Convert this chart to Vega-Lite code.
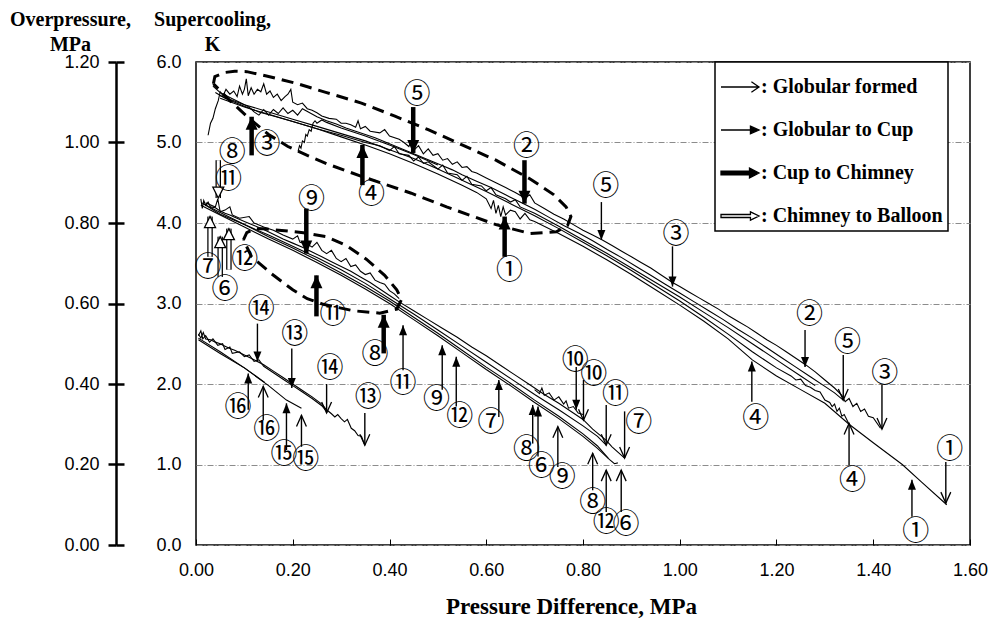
{
"$schema":"https://vega.github.io/schema/vega-lite/v6.json",
"width":774,"height":483,
"autosize":{"type":"none"},
"padding":{"left":196,"top":62,"right":23,"bottom":75},
"config":{
 "view":{"stroke":"black","strokeWidth":1.5},
 "axis":{"labelFont":"Liberation Sans Narrow, Liberation Sans","labelFontSize":18,"labelColor":"black","titleFont":"Liberation Serif","titleFontWeight":"bold","titleColor":"black","labelFlush":false,"labelOverlap":false},
 "legend":{"strokeWidth":1.5}
},
"datasets":{
 "leg":[{"type":"Globular formed","x":-1,"y":-1},{"type":"Globular to Cup","x":-1,"y":-1},{"type":"Cup to Chimney","x":-1,"y":-1},{"type":"Chimney to Balloon","x":-1,"y":-1}],
 "ell":[
  {"e":"A","i":1,"x":0.036,"y":5.73},{"e":"A","i":2,"x":0.039,"y":5.82},{"e":"A","i":3,"x":0.06,"y":5.87},{"e":"A","i":4,"x":0.08,"y":5.885},{"e":"A","i":5,"x":0.105,"y":5.88},{"e":"A","i":6,"x":0.15,"y":5.82},{"e":"A","i":7,"x":0.204,"y":5.74},{"e":"A","i":8,"x":0.27,"y":5.62},{"e":"A","i":9,"x":0.342,"y":5.49},{"e":"A","i":10,"x":0.41,"y":5.33},{"e":"A","i":11,"x":0.48,"y":5.16},{"e":"A","i":12,"x":0.55,"y":4.97},{"e":"A","i":13,"x":0.62,"y":4.78},{"e":"A","i":14,"x":0.69,"y":4.55},{"e":"A","i":15,"x":0.74,"y":4.35},{"e":"A","i":16,"x":0.765,"y":4.2},{"e":"A","i":17,"x":0.775,"y":4.08},{"e":"A","i":18,"x":0.768,"y":3.97},{"e":"A","i":19,"x":0.745,"y":3.89},{"e":"A","i":20,"x":0.69,"y":3.87},{"e":"A","i":21,"x":0.62,"y":3.98},{"e":"A","i":22,"x":0.518,"y":4.2},{"e":"A","i":23,"x":0.445,"y":4.37},{"e":"A","i":24,"x":0.342,"y":4.58},{"e":"A","i":25,"x":0.273,"y":4.73},{"e":"A","i":26,"x":0.23,"y":4.84},{"e":"A","i":27,"x":0.19,"y":4.95},{"e":"A","i":28,"x":0.15,"y":5.1},{"e":"A","i":29,"x":0.11,"y":5.3},{"e":"A","i":30,"x":0.07,"y":5.52},{"e":"A","i":31,"x":0.036,"y":5.73},
  {"e":"B","i":1,"x":0.098,"y":3.79},{"e":"B","i":2,"x":0.105,"y":3.88},{"e":"B","i":3,"x":0.122,"y":3.93},{"e":"B","i":4,"x":0.139,"y":3.93},{"e":"B","i":5,"x":0.222,"y":3.88},{"e":"B","i":6,"x":0.27,"y":3.83},{"e":"B","i":7,"x":0.311,"y":3.72},{"e":"B","i":8,"x":0.352,"y":3.55},{"e":"B","i":9,"x":0.39,"y":3.35},{"e":"B","i":10,"x":0.415,"y":3.17},{"e":"B","i":11,"x":0.425,"y":3.05},{"e":"B","i":12,"x":0.415,"y":2.93},{"e":"B","i":13,"x":0.38,"y":2.88},{"e":"B","i":14,"x":0.325,"y":2.91},{"e":"B","i":15,"x":0.263,"y":2.99},{"e":"B","i":16,"x":0.23,"y":3.06},{"e":"B","i":17,"x":0.2,"y":3.17},{"e":"B","i":18,"x":0.156,"y":3.37},{"e":"B","i":19,"x":0.115,"y":3.58},{"e":"B","i":20,"x":0.098,"y":3.79}
 ],
 "curves":[
  {"s":"T1","x":0.025,"y":5.09},{"s":"T1","x":0.03,"y":5.24},{"s":"T1","x":0.035,"y":5.3},{"s":"T1","x":0.04,"y":5.42},{"s":"T1","x":0.046,"y":5.52},{"s":"T1","x":0.05,"y":5.63},{"s":"T1","x":0.056,"y":5.58},{"s":"T1","x":0.062,"y":5.66},{"s":"T1","x":0.07,"y":5.6},{"s":"T1","x":0.078,"y":5.64},{"s":"T1","x":0.085,"y":5.57},{"s":"T1","x":0.09,"y":5.7},{"s":"T1","x":0.096,"y":5.6},{"s":"T1","x":0.1,"y":5.66},{"s":"T1","x":0.104,"y":5.79},{"s":"T1","x":0.108,"y":5.58},{"s":"T1","x":0.114,"y":5.68},{"s":"T1","x":0.12,"y":5.6},{"s":"T1","x":0.127,"y":5.66},{"s":"T1","x":0.134,"y":5.63},{"s":"T1","x":0.14,"y":5.73},{"s":"T1","x":0.146,"y":5.6},{"s":"T1","x":0.153,"y":5.64},{"s":"T1","x":0.16,"y":5.56},{"s":"T1","x":0.168,"y":5.6},{"s":"T1","x":0.176,"y":5.52},{"s":"T1","x":0.184,"y":5.57},{"s":"T1","x":0.19,"y":5.6},{"s":"T1","x":0.196,"y":5.66},{"s":"T1","x":0.2,"y":5.5},{"s":"T1","x":0.21,"y":5.47},{"s":"T1","x":0.22,"y":5.49},{"s":"T1","x":0.23,"y":5.42},{"s":"T1","x":0.24,"y":5.4},{"s":"T1","x":0.25,"y":5.37},{"s":"T1","x":0.26,"y":5.33},{"s":"T1","x":0.275,"y":5.3},{"s":"T1","x":0.29,"y":5.29},{"s":"T1","x":0.3,"y":5.24},{"s":"T1","x":0.31,"y":5.24},{"s":"T1","x":0.32,"y":5.22},{"s":"T1","x":0.33,"y":5.19},{"s":"T1","x":0.335,"y":5.27},{"s":"T1","x":0.34,"y":5.17},{"s":"T1","x":0.35,"y":5.2},{"s":"T1","x":0.36,"y":5.14},{"s":"T1","x":0.38,"y":5.12},{"s":"T1","x":0.39,"y":5.16},{"s":"T1","x":0.4,"y":5.08},{"s":"T1","x":0.42,"y":5.04},{"s":"T1","x":0.43,"y":5.0},{"s":"T1","x":0.44,"y":4.95},{"s":"T1","x":0.445,"y":5.02},{"s":"T1","x":0.45,"y":4.9},{"s":"T1","x":0.46,"y":4.96},{"s":"T1","x":0.47,"y":4.86},{"s":"T1","x":0.48,"y":4.92},{"s":"T1","x":0.49,"y":4.84},{"s":"T1","x":0.5,"y":4.86},{"s":"T1","x":0.51,"y":4.78},{"s":"T1","x":0.52,"y":4.8},{"s":"T1","x":0.53,"y":4.73},{"s":"T1","x":0.54,"y":4.76},{"s":"T1","x":0.55,"y":4.69},{"s":"T1","x":0.56,"y":4.7},{"s":"T1","x":0.57,"y":4.64},{"s":"T1","x":0.58,"y":4.62},{"s":"T1","x":0.6,"y":4.56},{"s":"T1","x":0.62,"y":4.5},{"s":"T1","x":0.64,"y":4.44},{"s":"T1","x":0.66,"y":4.38},{"s":"T1","x":0.68,"y":4.31},{"s":"T1","x":0.69,"y":4.35},{"s":"T1","x":0.7,"y":4.25},{"s":"T1","x":0.72,"y":4.18},{"s":"T1","x":0.74,"y":4.11},{"s":"T1","x":0.76,"y":4.05},{"s":"T1","x":0.78,"y":3.98},{"s":"T1","x":0.8,"y":3.91},{"s":"T1","x":0.82,"y":3.85},{"s":"T1","x":0.84,"y":3.79},{"s":"T1","x":0.86,"y":3.72},{"s":"T1","x":0.88,"y":3.65},{"s":"T1","x":0.9,"y":3.58},{"s":"T1","x":0.92,"y":3.51},{"s":"T1","x":0.94,"y":3.44},{"s":"T1","x":0.96,"y":3.36},{"s":"T1","x":0.985,"y":3.26},{"s":"T1","x":1.0,"y":3.21},{"s":"T1","x":1.02,"y":3.14},{"s":"T1","x":1.04,"y":3.07},{"s":"T1","x":1.06,"y":3.0},{"s":"T1","x":1.08,"y":2.93},{"s":"T1","x":1.1,"y":2.85},{"s":"T1","x":1.12,"y":2.78},{"s":"T1","x":1.14,"y":2.71},{"s":"T1","x":1.16,"y":2.63},{"s":"T1","x":1.18,"y":2.55},{"s":"T1","x":1.2,"y":2.48},{"s":"T1","x":1.22,"y":2.4},{"s":"T1","x":1.24,"y":2.32},{"s":"T1","x":1.26,"y":2.24},{"s":"T1","x":1.28,"y":2.15},{"s":"T1","x":1.3,"y":2.05},{"s":"T1","x":1.32,"y":1.95},{"s":"T1","x":1.335,"y":1.86},{"s":"T1","x":1.342,"y":1.78},{"s":"T1","x":1.35,"y":1.82},{"s":"T1","x":1.358,"y":1.72},{"s":"T1","x":1.366,"y":1.76},{"s":"T1","x":1.374,"y":1.66},{"s":"T1","x":1.382,"y":1.69},{"s":"T1","x":1.39,"y":1.6},{"s":"T1","x":1.4,"y":1.58},{"s":"T1","x":1.415,"y":1.45},
  {"s":"T2","x":0.035,"y":5.7},{"s":"T2","x":0.05,"y":5.62},{"s":"T2","x":0.07,"y":5.56},{"s":"T2","x":0.09,"y":5.5},{"s":"T2","x":0.11,"y":5.44},{"s":"T2","x":0.12,"y":5.38},{"s":"T2","x":0.13,"y":5.34},{"s":"T2","x":0.14,"y":5.41},{"s":"T2","x":0.15,"y":5.34},{"s":"T2","x":0.16,"y":5.41},{"s":"T2","x":0.17,"y":5.36},{"s":"T2","x":0.18,"y":5.43},{"s":"T2","x":0.19,"y":5.36},{"s":"T2","x":0.2,"y":5.4},{"s":"T2","x":0.21,"y":5.34},{"s":"T2","x":0.22,"y":5.42},{"s":"T2","x":0.235,"y":5.37},{"s":"T2","x":0.25,"y":5.32},{"s":"T2","x":0.27,"y":5.27},{"s":"T2","x":0.29,"y":5.23},{"s":"T2","x":0.31,"y":5.18},{"s":"T2","x":0.33,"y":5.14},{"s":"T2","x":0.35,"y":5.1},{"s":"T2","x":0.37,"y":5.06},{"s":"T2","x":0.39,"y":5.01},{"s":"T2","x":0.41,"y":4.96},{"s":"T2","x":0.43,"y":4.91},{"s":"T2","x":0.45,"y":4.86},{"s":"T2","x":0.47,"y":4.81},{"s":"T2","x":0.49,"y":4.76},{"s":"T2","x":0.51,"y":4.71},{"s":"T2","x":0.53,"y":4.66},{"s":"T2","x":0.55,"y":4.6},{"s":"T2","x":0.58,"y":4.52},{"s":"T2","x":0.61,"y":4.44},{"s":"T2","x":0.64,"y":4.35},{"s":"T2","x":0.67,"y":4.26},{"s":"T2","x":0.7,"y":4.17},{"s":"T2","x":0.73,"y":4.07},{"s":"T2","x":0.76,"y":3.97},{"s":"T2","x":0.79,"y":3.88},{"s":"T2","x":0.82,"y":3.78},{"s":"T2","x":0.85,"y":3.67},{"s":"T2","x":0.88,"y":3.57},{"s":"T2","x":0.91,"y":3.46},{"s":"T2","x":0.94,"y":3.35},{"s":"T2","x":0.97,"y":3.24},{"s":"T2","x":1.0,"y":3.13},{"s":"T2","x":1.03,"y":3.02},{"s":"T2","x":1.06,"y":2.91},{"s":"T2","x":1.09,"y":2.8},{"s":"T2","x":1.12,"y":2.68},{"s":"T2","x":1.15,"y":2.57},{"s":"T2","x":1.18,"y":2.45},{"s":"T2","x":1.21,"y":2.33},{"s":"T2","x":1.24,"y":2.21},{"s":"T2","x":1.27,"y":2.09},{"s":"T2","x":1.3,"y":1.97},{"s":"T2","x":1.32,"y":1.89},{"s":"T2","x":1.338,"y":1.8},
  {"s":"T3","x":0.04,"y":5.62},{"s":"T3","x":0.06,"y":5.55},{"s":"T3","x":0.08,"y":5.5},{"s":"T3","x":0.1,"y":5.45},{"s":"T3","x":0.13,"y":5.38},{"s":"T3","x":0.16,"y":5.33},{"s":"T3","x":0.2,"y":5.26},{"s":"T3","x":0.25,"y":5.17},{"s":"T3","x":0.3,"y":5.09},{"s":"T3","x":0.35,"y":5.0},{"s":"T3","x":0.38,"y":4.96},{"s":"T3","x":0.4,"y":4.9},{"s":"T3","x":0.41,"y":4.95},{"s":"T3","x":0.42,"y":4.86},{"s":"T3","x":0.44,"y":4.84},{"s":"T3","x":0.45,"y":4.77},{"s":"T3","x":0.46,"y":4.82},{"s":"T3","x":0.47,"y":4.74},{"s":"T3","x":0.48,"y":4.76},{"s":"T3","x":0.5,"y":4.67},{"s":"T3","x":0.51,"y":4.72},{"s":"T3","x":0.52,"y":4.62},{"s":"T3","x":0.54,"y":4.6},{"s":"T3","x":0.55,"y":4.53},{"s":"T3","x":0.56,"y":4.58},{"s":"T3","x":0.57,"y":4.48},{"s":"T3","x":0.59,"y":4.46},{"s":"T3","x":0.6,"y":4.4},{"s":"T3","x":0.61,"y":4.44},{"s":"T3","x":0.62,"y":4.35},{"s":"T3","x":0.64,"y":4.3},{"s":"T3","x":0.65,"y":4.26},{"s":"T3","x":0.66,"y":4.29},{"s":"T3","x":0.67,"y":4.2},{"s":"T3","x":0.7,"y":4.12},{"s":"T3","x":0.75,"y":3.96},{"s":"T3","x":0.8,"y":3.79},{"s":"T3","x":0.85,"y":3.62},{"s":"T3","x":0.9,"y":3.44},{"s":"T3","x":0.95,"y":3.26},{"s":"T3","x":1.0,"y":3.08},{"s":"T3","x":1.05,"y":2.89},{"s":"T3","x":1.1,"y":2.7},{"s":"T3","x":1.15,"y":2.5},{"s":"T3","x":1.2,"y":2.3},{"s":"T3","x":1.25,"y":2.1},{"s":"T3","x":1.28,"y":1.98},
  {"s":"T4","x":0.05,"y":5.58},{"s":"T4","x":0.1,"y":5.47},{"s":"T4","x":0.15,"y":5.38},{"s":"T4","x":0.2,"y":5.29},{"s":"T4","x":0.25,"y":5.2},{"s":"T4","x":0.3,"y":5.11},{"s":"T4","x":0.35,"y":5.02},{"s":"T4","x":0.4,"y":4.91},{"s":"T4","x":0.45,"y":4.8},{"s":"T4","x":0.5,"y":4.67},{"s":"T4","x":0.55,"y":4.53},{"s":"T4","x":0.6,"y":4.39},{"s":"T4","x":0.65,"y":4.24},{"s":"T4","x":0.7,"y":4.09},{"s":"T4","x":0.75,"y":3.93},{"s":"T4","x":0.8,"y":3.76},{"s":"T4","x":0.85,"y":3.59},{"s":"T4","x":0.9,"y":3.41},{"s":"T4","x":0.95,"y":3.22},{"s":"T4","x":1.0,"y":3.03},{"s":"T4","x":1.05,"y":2.83},{"s":"T4","x":1.1,"y":2.62},{"s":"T4","x":1.15,"y":2.4},{"s":"T4","x":1.2,"y":2.2},{"s":"T4","x":1.23,"y":2.1},{"s":"T4","x":1.24,"y":2.05},{"s":"T4","x":1.25,"y":2.06},{"s":"T4","x":1.26,"y":1.98},{"s":"T4","x":1.27,"y":1.96},{"s":"T4","x":1.28,"y":1.92},{"s":"T4","x":1.29,"y":1.9},{"s":"T4","x":1.3,"y":1.8},{"s":"T4","x":1.31,"y":1.77},{"s":"T4","x":1.315,"y":1.72},{"s":"T4","x":1.32,"y":1.75},{"s":"T4","x":1.325,"y":1.66},{"s":"T4","x":1.33,"y":1.7},{"s":"T4","x":1.335,"y":1.6},{"s":"T4","x":1.34,"y":1.62},{"s":"T4","x":1.35,"y":1.5},
  {"s":"T5","x":0.05,"y":5.55},{"s":"T5","x":0.1,"y":5.44},{"s":"T5","x":0.15,"y":5.35},{"s":"T5","x":0.2,"y":5.26},{"s":"T5","x":0.25,"y":5.17},{"s":"T5","x":0.3,"y":5.07},{"s":"T5","x":0.35,"y":4.97},{"s":"T5","x":0.4,"y":4.86},{"s":"T5","x":0.45,"y":4.74},{"s":"T5","x":0.5,"y":4.61},{"s":"T5","x":0.55,"y":4.47},{"s":"T5","x":0.58,"y":4.38},{"s":"T5","x":0.6,"y":4.3},{"s":"T5","x":0.61,"y":4.18},{"s":"T5","x":0.615,"y":4.28},{"s":"T5","x":0.62,"y":4.12},{"s":"T5","x":0.625,"y":4.22},{"s":"T5","x":0.63,"y":4.08},{"s":"T5","x":0.635,"y":4.2},{"s":"T5","x":0.64,"y":4.1},{"s":"T5","x":0.65,"y":4.16},{"s":"T5","x":0.66,"y":4.14},{"s":"T5","x":0.67,"y":4.05},{"s":"T5","x":0.68,"y":4.12},{"s":"T5","x":0.69,"y":4.04},{"s":"T5","x":0.7,"y":4.02},{"s":"T5","x":0.75,"y":3.87},{"s":"T5","x":0.8,"y":3.71},{"s":"T5","x":0.85,"y":3.54},{"s":"T5","x":0.9,"y":3.36},{"s":"T5","x":0.95,"y":3.17},{"s":"T5","x":1.0,"y":2.98},{"s":"T5","x":1.05,"y":2.78},{"s":"T5","x":1.1,"y":2.56},{"s":"T5","x":1.15,"y":2.3},{"s":"T5","x":1.2,"y":2.1},{"s":"T5","x":1.25,"y":1.93},{"s":"T5","x":1.3,"y":1.76},{"s":"T5","x":1.35,"y":1.5},{"s":"T5","x":1.4,"y":1.27},{"s":"T5","x":1.46,"y":1.0},{"s":"T5","x":1.5,"y":0.78},{"s":"T5","x":1.552,"y":0.5},
  {"s":"T6","x":0.211,"y":4.89},{"s":"T6","x":0.214,"y":4.96},{"s":"T6","x":0.217,"y":4.93},{"s":"T6","x":0.22,"y":5.02},{"s":"T6","x":0.224,"y":5.0},{"s":"T6","x":0.227,"y":5.1},{"s":"T6","x":0.23,"y":5.08},{"s":"T6","x":0.234,"y":5.16},{"s":"T6","x":0.238,"y":5.14},{"s":"T6","x":0.242,"y":5.24},{"s":"T6","x":0.246,"y":5.27},{"s":"T6","x":0.25,"y":5.24},{"s":"T6","x":0.26,"y":5.28},{"s":"T6","x":0.27,"y":5.25},{"s":"T6","x":0.3,"y":5.18},{"s":"T6","x":0.35,"y":5.08},{"s":"T6","x":0.4,"y":4.97},{"s":"T6","x":0.45,"y":4.85},{"s":"T6","x":0.5,"y":4.72},
  {"s":"M1","x":0.01,"y":4.3},{"s":"M1","x":0.013,"y":4.18},{"s":"M1","x":0.016,"y":4.28},{"s":"M1","x":0.02,"y":4.22},{"s":"M1","x":0.025,"y":4.26},{"s":"M1","x":0.03,"y":4.2},{"s":"M1","x":0.04,"y":4.19},{"s":"M1","x":0.05,"y":4.15},{"s":"M1","x":0.06,"y":4.12},{"s":"M1","x":0.07,"y":4.1},{"s":"M1","x":0.08,"y":4.07},{"s":"M1","x":0.1,"y":4.02},{"s":"M1","x":0.12,"y":3.97},{"s":"M1","x":0.14,"y":3.92},{"s":"M1","x":0.16,"y":3.86},{"s":"M1","x":0.18,"y":3.8},{"s":"M1","x":0.2,"y":3.75},{"s":"M1","x":0.22,"y":3.7},{"s":"M1","x":0.24,"y":3.64},{"s":"M1","x":0.26,"y":3.58},{"s":"M1","x":0.28,"y":3.52},{"s":"M1","x":0.3,"y":3.46},{"s":"M1","x":0.32,"y":3.4},{"s":"M1","x":0.34,"y":3.33},{"s":"M1","x":0.36,"y":3.26},{"s":"M1","x":0.38,"y":3.18},{"s":"M1","x":0.4,"y":3.1},{"s":"M1","x":0.42,"y":3.02},{"s":"M1","x":0.45,"y":2.91},{"s":"M1","x":0.48,"y":2.8},{"s":"M1","x":0.51,"y":2.69},{"s":"M1","x":0.54,"y":2.58},{"s":"M1","x":0.57,"y":2.46},{"s":"M1","x":0.6,"y":2.35},{"s":"M1","x":0.63,"y":2.23},{"s":"M1","x":0.66,"y":2.11},{"s":"M1","x":0.69,"y":1.99},{"s":"M1","x":0.72,"y":1.87},{"s":"M1","x":0.75,"y":1.76},{"s":"M1","x":0.78,"y":1.64},{"s":"M1","x":0.8,"y":1.56},{"s":"M1","x":0.82,"y":1.44},{"s":"M1","x":0.848,"y":1.3},{"s":"M1","x":0.86,"y":1.22},{"s":"M1","x":0.886,"y":1.08},
  {"s":"M2","x":0.015,"y":4.24},{"s":"M2","x":0.05,"y":4.11},{"s":"M2","x":0.1,"y":3.98},{"s":"M2","x":0.15,"y":3.85},{"s":"M2","x":0.2,"y":3.71},{"s":"M2","x":0.25,"y":3.57},{"s":"M2","x":0.3,"y":3.42},{"s":"M2","x":0.35,"y":3.25},{"s":"M2","x":0.4,"y":3.06},{"s":"M2","x":0.45,"y":2.87},{"s":"M2","x":0.5,"y":2.67},{"s":"M2","x":0.55,"y":2.47},{"s":"M2","x":0.6,"y":2.27},{"s":"M2","x":0.65,"y":2.07},{"s":"M2","x":0.7,"y":1.87},{"s":"M2","x":0.75,"y":1.68},{"s":"M2","x":0.8,"y":1.48},{"s":"M2","x":0.83,"y":1.35},{"s":"M2","x":0.848,"y":1.24},
  {"s":"M3","x":0.01,"y":4.22},{"s":"M3","x":0.05,"y":4.1},{"s":"M3","x":0.1,"y":3.95},{"s":"M3","x":0.15,"y":3.8},{"s":"M3","x":0.2,"y":3.66},{"s":"M3","x":0.25,"y":3.51},{"s":"M3","x":0.3,"y":3.35},{"s":"M3","x":0.35,"y":3.18},{"s":"M3","x":0.4,"y":3.0},{"s":"M3","x":0.45,"y":2.8},{"s":"M3","x":0.5,"y":2.6},{"s":"M3","x":0.55,"y":2.39},{"s":"M3","x":0.6,"y":2.18},{"s":"M3","x":0.65,"y":1.98},{"s":"M3","x":0.7,"y":1.77},{"s":"M3","x":0.75,"y":1.57},{"s":"M3","x":0.8,"y":1.35},{"s":"M3","x":0.83,"y":1.2},{"s":"M3","x":0.855,"y":1.06},{"s":"M3","x":0.865,"y":1.01},{"s":"M3","x":0.872,"y":1.02},
  {"s":"M4","x":0.012,"y":4.25},{"s":"M4","x":0.05,"y":4.13},{"s":"M4","x":0.1,"y":3.98},{"s":"M4","x":0.15,"y":3.83},{"s":"M4","x":0.2,"y":3.69},{"s":"M4","x":0.25,"y":3.54},{"s":"M4","x":0.3,"y":3.38},{"s":"M4","x":0.35,"y":3.21},{"s":"M4","x":0.4,"y":3.03},{"s":"M4","x":0.45,"y":2.83},{"s":"M4","x":0.5,"y":2.63},{"s":"M4","x":0.55,"y":2.42},{"s":"M4","x":0.6,"y":2.21},{"s":"M4","x":0.65,"y":2.01},{"s":"M4","x":0.7,"y":1.8},{"s":"M4","x":0.75,"y":1.6},{"s":"M4","x":0.8,"y":1.38},{"s":"M4","x":0.83,"y":1.23},{"s":"M4","x":0.852,"y":1.08},
  {"s":"M5","x":0.02,"y":4.25},{"s":"M5","x":0.04,"y":4.2},{"s":"M5","x":0.045,"y":4.3},{"s":"M5","x":0.05,"y":4.14},{"s":"M5","x":0.06,"y":4.16},{"s":"M5","x":0.07,"y":4.2},{"s":"M5","x":0.075,"y":4.1},{"s":"M5","x":0.09,"y":4.06},{"s":"M5","x":0.11,"y":4.08},{"s":"M5","x":0.12,"y":4.0},{"s":"M5","x":0.14,"y":3.95},{"s":"M5","x":0.16,"y":3.91},{"s":"M5","x":0.18,"y":3.85},{"s":"M5","x":0.2,"y":3.8},{"s":"M5","x":0.21,"y":3.84},{"s":"M5","x":0.215,"y":3.76},{"s":"M5","x":0.23,"y":3.74},{"s":"M5","x":0.24,"y":3.7},{"s":"M5","x":0.25,"y":3.76},{"s":"M5","x":0.26,"y":3.66},{"s":"M5","x":0.27,"y":3.62},{"s":"M5","x":0.28,"y":3.66},{"s":"M5","x":0.29,"y":3.56},{"s":"M5","x":0.3,"y":3.52},{"s":"M5","x":0.31,"y":3.56},{"s":"M5","x":0.32,"y":3.46},{"s":"M5","x":0.33,"y":3.48},{"s":"M5","x":0.34,"y":3.4},{"s":"M5","x":0.35,"y":3.36},{"s":"M5","x":0.36,"y":3.38},{"s":"M5","x":0.37,"y":3.29},{"s":"M5","x":0.38,"y":3.26},{"s":"M5","x":0.39,"y":3.24},{"s":"M5","x":0.4,"y":3.16},{"s":"M5","x":0.41,"y":3.12},{"s":"M5","x":0.42,"y":3.06},
  {"s":"M6","x":0.7,"y":1.93},{"s":"M6","x":0.71,"y":1.88},{"s":"M6","x":0.715,"y":1.95},{"s":"M6","x":0.72,"y":1.86},{"s":"M6","x":0.73,"y":1.89},{"s":"M6","x":0.74,"y":1.8},{"s":"M6","x":0.75,"y":1.84},{"s":"M6","x":0.76,"y":1.75},{"s":"M6","x":0.765,"y":1.79},{"s":"M6","x":0.77,"y":1.7},{"s":"M6","x":0.78,"y":1.72},{"s":"M6","x":0.79,"y":1.64},{"s":"M6","x":0.8,"y":1.62},
  {"s":"B1","x":0.005,"y":2.62},{"s":"B1","x":0.01,"y":2.57},{"s":"B1","x":0.015,"y":2.64},{"s":"B1","x":0.02,"y":2.56},{"s":"B1","x":0.03,"y":2.55},{"s":"B1","x":0.04,"y":2.52},{"s":"B1","x":0.05,"y":2.5},{"s":"B1","x":0.06,"y":2.47},{"s":"B1","x":0.07,"y":2.44},{"s":"B1","x":0.08,"y":2.42},{"s":"B1","x":0.1,"y":2.36},{"s":"B1","x":0.12,"y":2.3},{"s":"B1","x":0.14,"y":2.24},{"s":"B1","x":0.16,"y":2.16},{"s":"B1","x":0.18,"y":2.08},{"s":"B1","x":0.2,"y":2.0},{"s":"B1","x":0.22,"y":1.92},{"s":"B1","x":0.24,"y":1.84},{"s":"B1","x":0.26,"y":1.75},{"s":"B1","x":0.27,"y":1.68},{"s":"B1","x":0.28,"y":1.63},{"s":"B1","x":0.287,"y":1.59},{"s":"B1","x":0.293,"y":1.62},{"s":"B1","x":0.3,"y":1.57},{"s":"B1","x":0.307,"y":1.53},{"s":"B1","x":0.313,"y":1.56},{"s":"B1","x":0.321,"y":1.45},{"s":"B1","x":0.328,"y":1.42},{"s":"B1","x":0.335,"y":1.36},{"s":"B1","x":0.342,"y":1.35},{"s":"B1","x":0.349,"y":1.24},
  {"s":"B2","x":0.005,"y":2.6},{"s":"B2","x":0.01,"y":2.66},{"s":"B2","x":0.014,"y":2.56},{"s":"B2","x":0.02,"y":2.6},{"s":"B2","x":0.028,"y":2.52},{"s":"B2","x":0.035,"y":2.56},{"s":"B2","x":0.045,"y":2.48},{"s":"B2","x":0.055,"y":2.5},{"s":"B2","x":0.06,"y":2.43},{"s":"B2","x":0.07,"y":2.46},{"s":"B2","x":0.075,"y":2.38},{"s":"B2","x":0.09,"y":2.4},{"s":"B2","x":0.1,"y":2.34},{"s":"B2","x":0.11,"y":2.36},{"s":"B2","x":0.12,"y":2.28},{"s":"B2","x":0.13,"y":2.3},{"s":"B2","x":0.14,"y":2.22},{"s":"B2","x":0.16,"y":2.14},{"s":"B2","x":0.18,"y":2.06},{"s":"B2","x":0.2,"y":1.98},{"s":"B2","x":0.22,"y":1.9},{"s":"B2","x":0.24,"y":1.82},{"s":"B2","x":0.26,"y":1.73},{"s":"B2","x":0.27,"y":1.66},
  {"s":"B3","x":0.005,"y":2.55},{"s":"B3","x":0.05,"y":2.38},{"s":"B3","x":0.1,"y":2.2},{"s":"B3","x":0.15,"y":1.98},{"s":"B3","x":0.187,"y":1.8},{"s":"B3","x":0.218,"y":1.7},
  {"s":"B4","x":0.005,"y":2.57},{"s":"B4","x":0.05,"y":2.4},{"s":"B4","x":0.1,"y":2.2},{"s":"B4","x":0.142,"y":2.02}
 ],
 "arrows":[
  {"x":0.115,"yt":4.84,"y":5.32,"t":"CC"},{"x":0.344,"yt":4.47,"y":4.97,"t":"CC"},{"x":0.449,"yt":5.44,"y":4.87,"t":"CC"},{"x":0.679,"yt":4.78,"y":4.24,"t":"CC"},{"x":0.638,"yt":3.58,"y":4.08,"t":"CC"},
  {"x":0.838,"yt":4.26,"y":3.79,"t":"GC"},{"x":0.985,"yt":3.71,"y":3.21,"t":"GC"},{"x":1.259,"yt":2.67,"y":2.21,"t":"GC"},{"x":1.149,"yt":1.78,"y":2.28,"t":"GC"},{"x":1.48,"yt":0.35,"y":0.81,"t":"GC"},
  {"x":1.338,"yt":2.36,"y":1.8,"t":"GF"},{"x":1.418,"yt":1.99,"y":1.44,"t":"GF"},{"x":1.35,"yt":0.99,"y":1.51,"t":"GF"},{"x":1.55,"yt":1.03,"y":0.52,"t":"GF"},
  {"x":0.046,"yt":4.78,"y":4.31,"t":"CB"},{"x":0.029,"yt":3.58,"y":4.08,"t":"CB"},{"x":0.05,"yt":3.33,"y":3.83,"t":"CB"},{"x":0.068,"yt":3.42,"y":3.93,"t":"CB"},
  {"x":0.228,"yt":4.18,"y":3.62,"t":"CC"},{"x":0.249,"yt":2.84,"y":3.35,"t":"CC"},{"x":0.388,"yt":2.38,"y":2.86,"t":"CC"},
  {"x":0.428,"yt":2.17,"y":2.73,"t":"GC"},{"x":0.509,"yt":1.93,"y":2.48,"t":"GC"},{"x":0.538,"yt":1.72,"y":2.34,"t":"GC"},{"x":0.626,"yt":1.59,"y":2.05,"t":"GC"},{"x":0.696,"yt":1.26,"y":1.74,"t":"GC"},{"x":0.707,"yt":1.1,"y":1.72,"t":"GC"},{"x":0.786,"yt":2.21,"y":1.68,"t":"GC"},
  {"x":0.748,"yt":0.97,"y":1.47,"t":"GF"},{"x":0.801,"yt":2.05,"y":1.55,"t":"GF"},{"x":0.848,"yt":1.74,"y":1.24,"t":"GF"},{"x":0.886,"yt":1.66,"y":1.08,"t":"GF"},{"x":0.82,"yt":0.68,"y":1.14,"t":"GF"},{"x":0.848,"yt":0.41,"y":0.93,"t":"GF"},{"x":0.879,"yt":0.41,"y":0.93,"t":"GF"},
  {"x":0.127,"yt":2.75,"y":2.28,"t":"GC"},{"x":0.198,"yt":2.44,"y":1.95,"t":"GC"},{"x":0.108,"yt":1.68,"y":2.13,"t":"GC"},{"x":0.187,"yt":1.18,"y":1.76,"t":"GC"},
  {"x":0.27,"yt":2.0,"y":1.64,"t":"GF"},{"x":0.349,"yt":1.64,"y":1.24,"t":"GF"},{"x":0.139,"yt":1.55,"y":1.97,"t":"GF"},{"x":0.218,"yt":1.22,"y":1.61,"t":"GF"}
 ],
 "labels":[
  {"x":0.147,"y":4.97,"t":"③"},{"x":0.363,"y":4.35,"t":"④"},{"x":0.457,"y":5.59,"t":"⑤"},{"x":0.683,"y":4.95,"t":"②"},{"x":0.648,"y":3.4,"t":"①"},
  {"x":0.847,"y":4.45,"t":"⑤"},{"x":0.992,"y":3.85,"t":"③"},{"x":1.268,"y":2.86,"t":"②"},{"x":1.157,"y":1.57,"t":"④"},{"x":1.488,"y":0.165,"t":"①"},
  {"x":1.347,"y":2.51,"t":"⑤"},{"x":1.424,"y":2.13,"t":"③"},{"x":1.357,"y":0.79,"t":"④"},{"x":1.558,"y":1.18,"t":"①"},
  {"x":0.075,"y":4.87,"t":"⑧"},{"x":0.067,"y":4.53,"t":"⑪"},{"x":0.025,"y":3.44,"t":"⑦"},{"x":0.06,"y":3.17,"t":"⑥"},{"x":0.101,"y":3.54,"t":"⑫"},
  {"x":0.239,"y":4.29,"t":"⑨"},{"x":0.283,"y":2.86,"t":"⑪"},{"x":0.37,"y":2.36,"t":"⑧"},
  {"x":0.428,"y":2.0,"t":"⑪"},{"x":0.497,"y":1.8,"t":"⑨"},{"x":0.545,"y":1.59,"t":"⑫"},{"x":0.61,"y":1.51,"t":"⑦"},{"x":0.683,"y":1.18,"t":"⑧"},{"x":0.714,"y":0.965,"t":"⑥"},{"x":0.784,"y":2.28,"t":"⑩"},
  {"x":0.757,"y":0.83,"t":"⑨"},{"x":0.822,"y":2.11,"t":"⑩"},{"x":0.867,"y":1.86,"t":"⑪"},{"x":0.915,"y":1.51,"t":"⑦"},{"x":0.82,"y":0.52,"t":"⑧"},{"x":0.848,"y":0.27,"t":"⑫"},{"x":0.889,"y":0.25,"t":"⑥"},
  {"x":0.135,"y":2.92,"t":"⑭"},{"x":0.204,"y":2.61,"t":"⑬"},{"x":0.087,"y":1.7,"t":"⑯"},{"x":0.182,"y":1.12,"t":"⑮"},
  {"x":0.277,"y":2.19,"t":"⑭"},{"x":0.356,"y":1.82,"t":"⑬"},{"x":0.146,"y":1.43,"t":"⑯"},{"x":0.227,"y":1.06,"t":"⑮"}
 ]
},
"layer":[
 {
  "encoding":{
   "x":{"field":"x","type":"quantitative","scale":{"domain":[0,1.6],"nice":false},
        "axis":{"values":[0,0.2,0.4,0.6,0.8,1.0,1.2,1.4,1.6],"format":".2f","domain":false,"grid":false,"tickSize":-6,"tickColor":"black","tickWidth":1,"labelPadding":22,"title":"Pressure Difference, MPa","titleFontSize":23,"titleX":375,"titleY":68,"titleAlign":"center","titleBaseline":"alphabetic"}},
   "y":{"field":"y","type":"quantitative","scale":{"domain":[0,6],"nice":false},
        "axis":{"values":[0,1,2,3,4,5,6],"format":".1f","domain":false,"ticks":false,"labelPadding":15,"grid":true,"gridColor":"#8c8c8c","gridDash":[6,2,1,2],"gridWidth":1,"title":["Supercooling,","K"],"titleAngle":0,"titleX":16,"titleY":-37,"titleAlign":"center","titleBaseline":"alphabetic","titleFontSize":20,"titleLineHeight":25}}
  },
  "layer":[
   {"data":{"name":"leg"},
    "mark":{"type":"point","filled":true,"clip":true,"strokeWidth":1.3,"opacity":1},
    "encoding":{
     "shape":{"field":"type","type":"nominal","scale":{"domain":["Globular formed","Globular to Cup","Cup to Chimney","Chimney to Balloon"],"range":["M-1,0L1,0M0.6,-0.28L1,0L0.6,0.28","M-1,0L0.6,0M0.55,-0.2L1,0L0.55,0.2Z","M-1,-0.1L0.5,-0.1L0.5,-0.26L1,0L0.5,0.26L0.5,0.1L-1,0.1Z","M-1,-0.08L0.55,-0.08L0.55,-0.22L1,0L0.55,0.22L0.55,0.08L-1,0.08Z"]},
       "legend":{"title":null,"orient":"none","legendX":519,"legendY":0,"padding":5,"rowPadding":13,"strokeColor":"black","fillColor":"white","labelFont":"Liberation Serif","labelFontWeight":"bold","labelFontSize":20,"labelColor":"black","labelOffset":1,"labelLimit":400,"symbolSize":1444,"symbolStrokeWidth":1.3,"labelExpr":"': ' + datum.label"}},
     "fill":{"field":"type","type":"nominal","scale":{"domain":["Globular formed","Globular to Cup","Cup to Chimney","Chimney to Balloon"],"range":["transparent","black","black","white"]},
       "legend":{"title":null,"orient":"none","legendX":519,"legendY":0,"padding":5,"rowPadding":13,"strokeColor":"black","fillColor":"white","labelFont":"Liberation Serif","labelFontWeight":"bold","labelFontSize":20,"labelColor":"black","labelOffset":1,"labelLimit":400,"symbolSize":1444,"symbolStrokeWidth":1.3,"labelExpr":"': ' + datum.label"}},
     "stroke":{"field":"type","type":"nominal","scale":{"domain":["Globular formed","Globular to Cup","Cup to Chimney","Chimney to Balloon"],"range":["black","black","black","black"]},
       "legend":{"title":null,"orient":"none","legendX":519,"legendY":0,"padding":5,"rowPadding":13,"strokeColor":"black","fillColor":"white","labelFont":"Liberation Serif","labelFontWeight":"bold","labelFontSize":20,"labelColor":"black","labelOffset":1,"labelLimit":400,"symbolSize":1444,"symbolStrokeWidth":1.3,"labelExpr":"': ' + datum.label"}},
     "size":{"value":1444}
    }},
   {"data":{"name":"ell"},"mark":{"type":"line","strokeDash":[12,7],"strokeWidth":3,"color":"black"},
    "encoding":{"detail":{"field":"e"},"order":{"field":"i","type":"quantitative"}}},
   {"data":{"name":"curves"},"mark":{"type":"line","strokeWidth":1.1,"color":"black"},
    "encoding":{"detail":{"field":"s"}}},
   {"data":{"name":"arrows"},"transform":[{"filter":"datum.t=='GF' || datum.t=='GC'"}],
    "mark":{"type":"rule","strokeWidth":1.4,"color":"black"},"encoding":{"y2":{"field":"yt"}}},
   {"data":{"name":"arrows"},"transform":[{"filter":"datum.t=='CC'"}],
    "mark":{"type":"rule","strokeWidth":4.5,"color":"black"},"encoding":{"y2":{"field":"yt"}}},
   {"data":{"name":"arrows"},"transform":[{"filter":"datum.t=='CB'"}],
    "mark":{"type":"rule","strokeWidth":5.5,"color":"black"},"encoding":{"y2":{"field":"yt"}}},
   {"data":{"name":"arrows"},"transform":[{"filter":"datum.t=='CB'"}],
    "mark":{"type":"rule","strokeWidth":3,"color":"white"},"encoding":{"y2":{"field":"yt"}}},
   {"data":{"name":"arrows"},"transform":[{"filter":"datum.t=='GF' && datum.y < datum.yt"}],
    "mark":{"type":"point","shape":"M-0.45,-1L0,0L0.45,-1","filled":false,"stroke":"black","strokeWidth":1.3,"size":484,"opacity":1}},
   {"data":{"name":"arrows"},"transform":[{"filter":"datum.t=='GF' && datum.y > datum.yt"}],
    "mark":{"type":"point","shape":"M-0.45,1L0,0L0.45,1","filled":false,"stroke":"black","strokeWidth":1.3,"size":484,"opacity":1}},
   {"data":{"name":"arrows"},"transform":[{"filter":"datum.t=='GC' && datum.y < datum.yt"}],
    "mark":{"type":"point","shape":"M-0.4,-1L0,0L0.4,-1Z","filled":true,"fill":"black","size":400,"opacity":1}},
   {"data":{"name":"arrows"},"transform":[{"filter":"datum.t=='GC' && datum.y > datum.yt"}],
    "mark":{"type":"point","shape":"M-0.4,1L0,0L0.4,1Z","filled":true,"fill":"black","size":400,"opacity":1}},
   {"data":{"name":"arrows"},"transform":[{"filter":"datum.t=='CC' && datum.y < datum.yt"}],
    "mark":{"type":"point","shape":"M-0.46,-1L0,0L0.46,-1Z","filled":true,"fill":"black","size":676,"opacity":1}},
   {"data":{"name":"arrows"},"transform":[{"filter":"datum.t=='CC' && datum.y > datum.yt"}],
    "mark":{"type":"point","shape":"M-0.46,1L0,0L0.46,1Z","filled":true,"fill":"black","size":676,"opacity":1}},
   {"data":{"name":"arrows"},"transform":[{"filter":"datum.t=='CB' && datum.y < datum.yt"}],
    "mark":{"type":"point","shape":"M-0.5,-1L0,0L0.5,-1Z","filled":true,"fill":"white","stroke":"black","strokeWidth":1.3,"size":484,"opacity":1}},
   {"data":{"name":"arrows"},"transform":[{"filter":"datum.t=='CB' && datum.y > datum.yt"}],
    "mark":{"type":"point","shape":"M-0.5,1L0,0L0.5,1Z","filled":true,"fill":"white","stroke":"black","strokeWidth":1.3,"size":484,"opacity":1}},
   {"data":{"name":"labels"},"mark":{"type":"text","font":"Noto Sans CJK JP","fontSize":27,"baseline":"middle","align":"center","color":"black"},
    "encoding":{"text":{"field":"t"}}}
  ]
 },
 {"data":{"values":[{"v":0},{"v":1.2}]},"mark":{"type":"point","opacity":0},
  "encoding":{"y":{"field":"v","type":"quantitative","scale":{"domain":[0,1.2],"nice":false},
   "axis":{"orient":"left","offset":80,"values":[0,0.2,0.4,0.6,0.8,1.0,1.2],"format":".2f","domain":true,"domainWidth":2.5,"domainColor":"black","ticks":true,"tickSize":8,"tickWidth":2.5,"tickColor":"black","labelPadding":9,"grid":false,"title":["Overpressure,","MPa"],"titleAngle":0,"titleX":-46,"titleY":-37,"titleAlign":"center","titleBaseline":"alphabetic","titleFontSize":20,"titleLineHeight":25}}}},
 {"data":{"values":[{"v":0},{"v":1.2}]},"mark":{"type":"point","opacity":0},
  "encoding":{"y":{"field":"v","type":"quantitative","scale":{"domain":[0,1.2],"nice":false},
   "axis":{"orient":"left","offset":72,"values":[0,0.2,0.4,0.6,0.8,1.0,1.2],"domain":false,"labels":false,"ticks":true,"tickSize":8,"tickWidth":2.5,"tickColor":"black","grid":false,"title":null}}}}
],
"resolve":{"scale":{"y":"independent"},"axis":{"y":"independent"}}
}
